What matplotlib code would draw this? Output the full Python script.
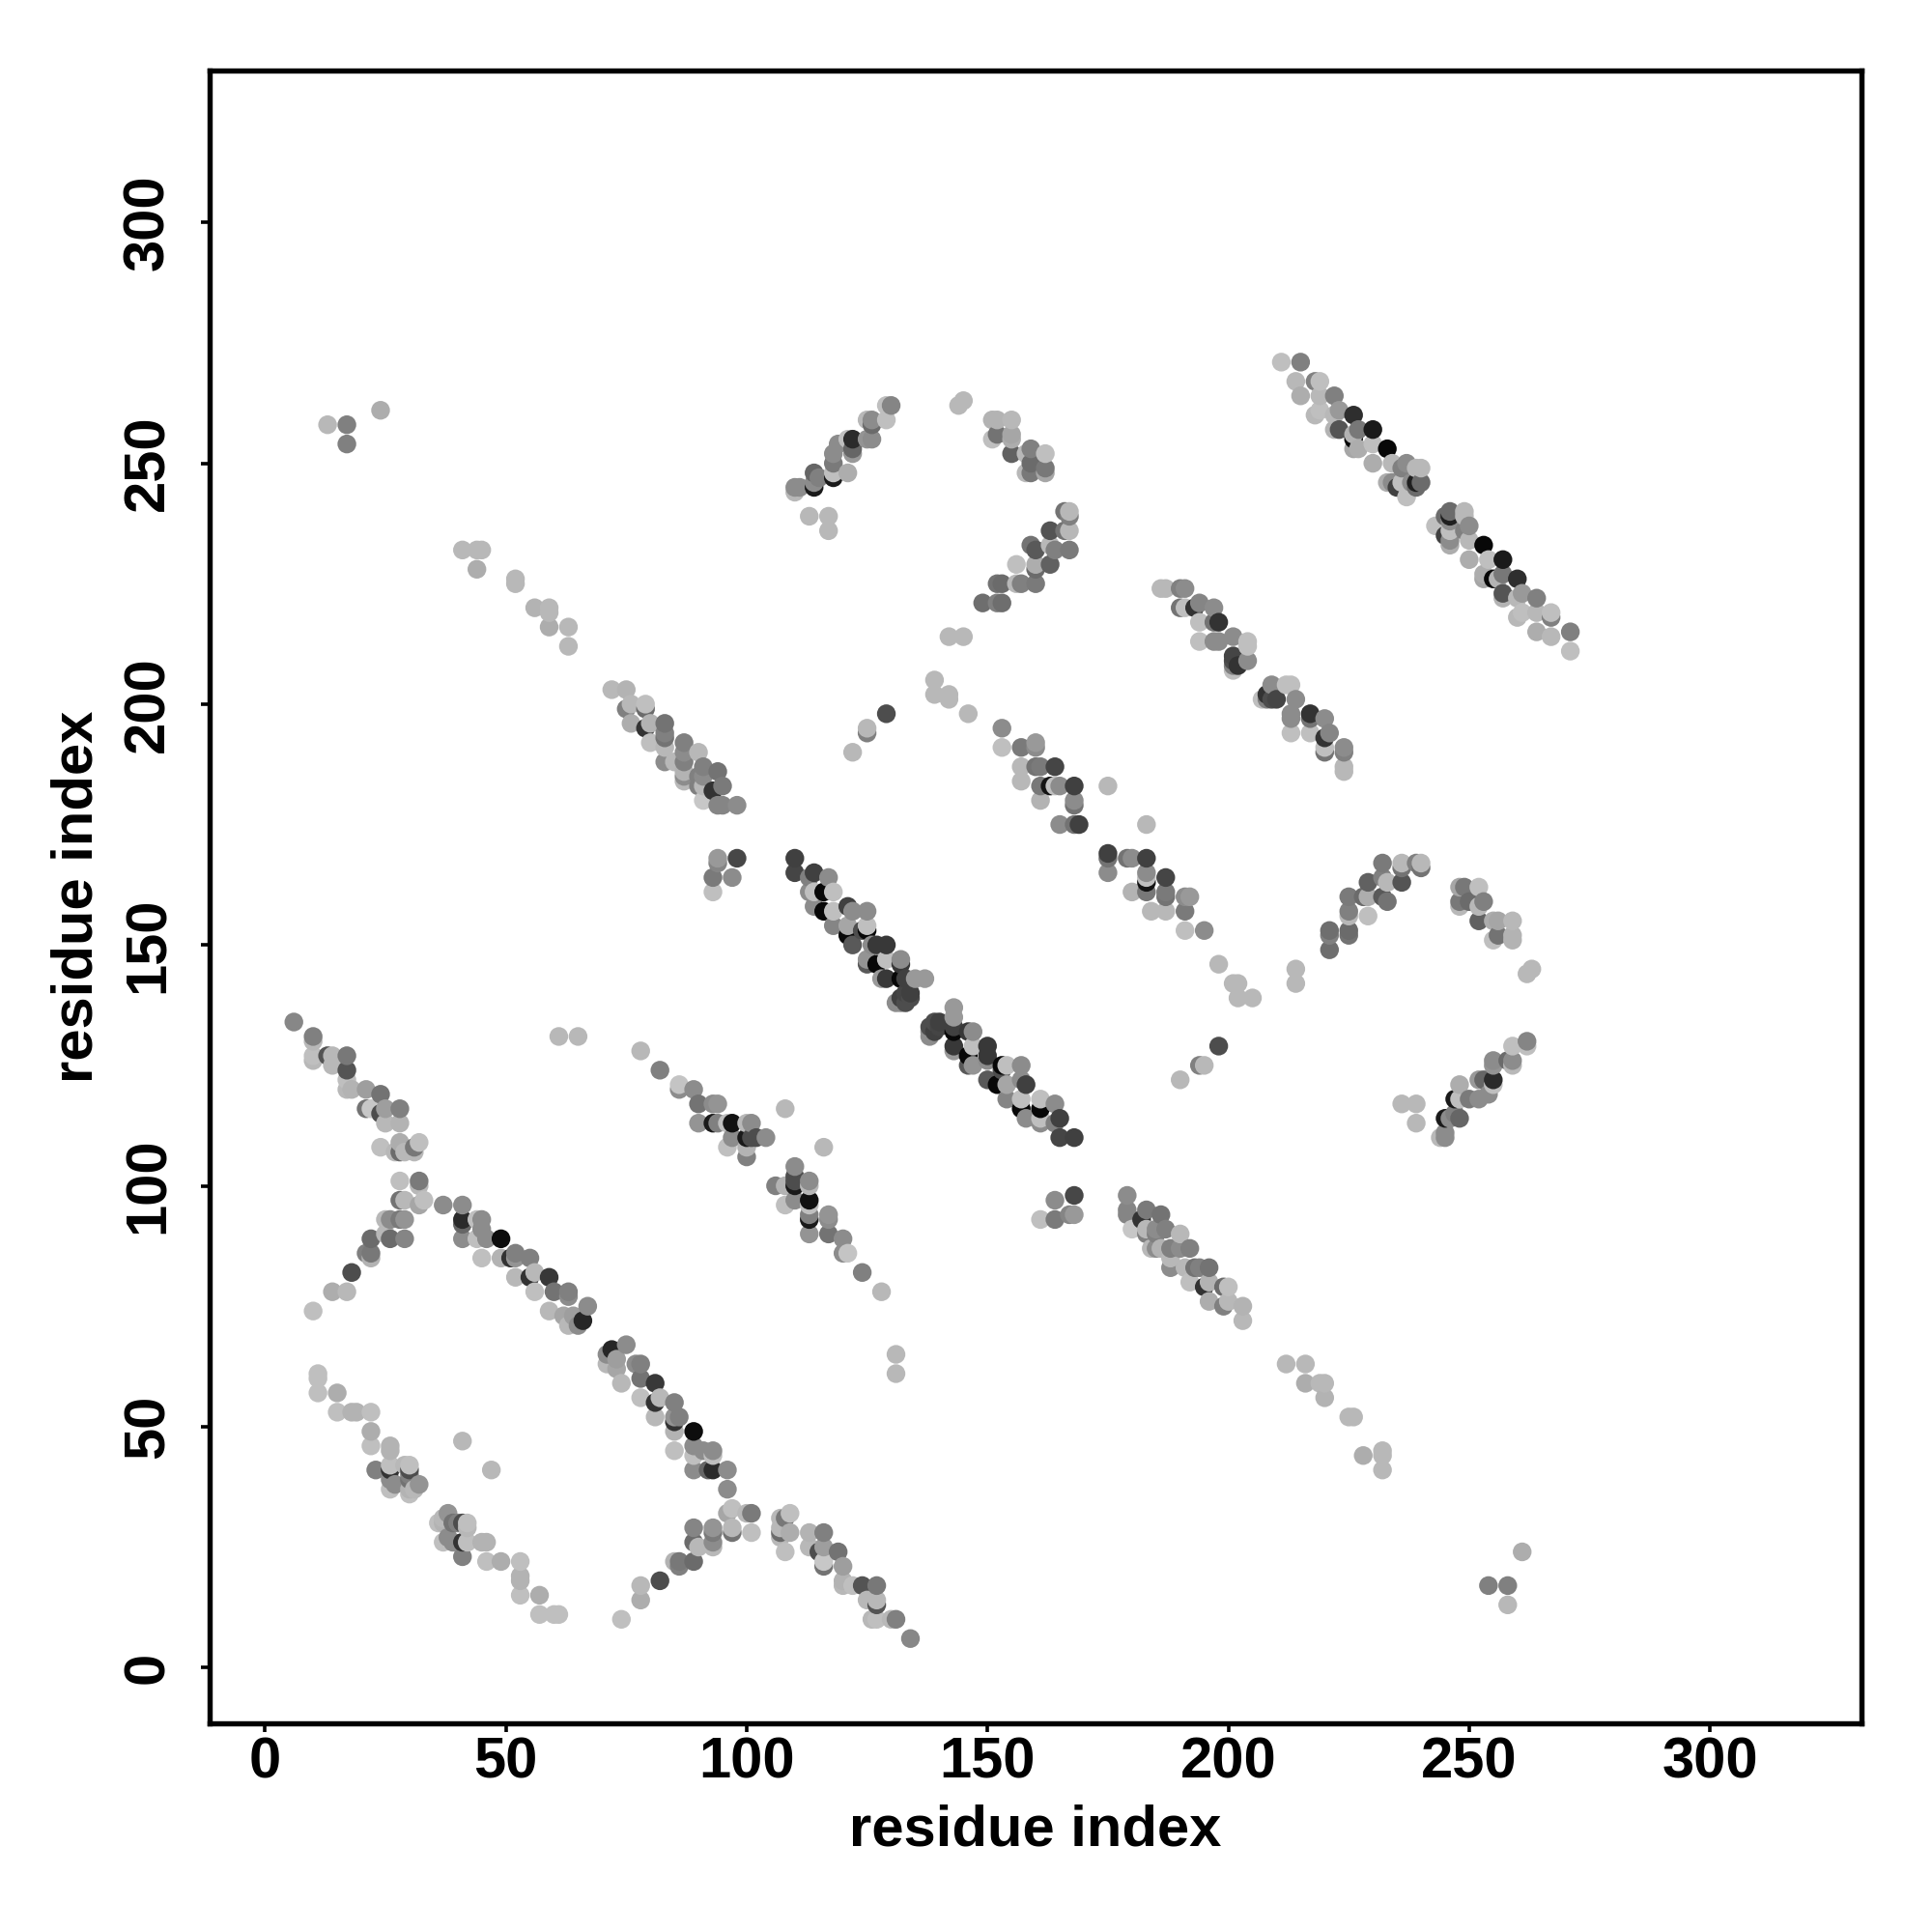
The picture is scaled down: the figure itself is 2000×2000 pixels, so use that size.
import numpy as np
import matplotlib
matplotlib.use("Agg")
import matplotlib.pyplot as plt

plt.rcParams['font.family'] = ['Liberation Sans', 'DejaVu Sans']
plt.rcParams['font.weight'] = 'bold'

# contacts (residue i, residue j, gray level); the map is symmetric, i < j listed
strand_a = [(6,134,.53),(10,131,.5),(10,130,.72),(10,127,.75),(10,126,.72),(13,127,.33),(14,127,.72),(14,125,.72),
            (17,127,.47),(17,124,.33),(17,122,.75),(17,120,.72),(18,120,.7),(21,120,.62),(24,119,.45),(21,116,.45),
            (22,116,.78),(24,115,.3),(25,116,.62),(28,116,.5),(25,113,.72),(28,113,.7),(28,109,.68),(24,108,.75),
            (27,107,.72),(28,107,.42),(29,107,.72),(31,108,.47),(31,107,.72),(32,109,.75)]
strand_b = [(28,101,.75),(32,101,.48),(32,100,.72),(28,97,.45),(29,97,.72),(33,97,.75),(32,96,.65),
            (10,74,.75),(14,78,.68),(17,78,.72),(18,82,.3),(21,86,.5),(22,86,.47),(22,85,.7),(22,89,.42),
            (26,89,.42),(25,90,.72),(29,89,.52),(25,93,.72),(26,93,.55),(28,93,.48),(29,93,.58)]
strand_c = [(37,96,.55),(41,96,.55),(41,93,.17),(41,92,.4),(41,89,.55),(44,93,.75),(45,93,.55),(45,91,.55),(44,89,.75),
            (46,89,.55),(45,85,.75),(49,89,.05),(49,85,.7),(51,85,.2),(52,86,.5),(52,85,.58),(55,85,.5),(52,81,.72),
            (56,82,.72),(55,81,.2),(59,81,.22),(56,78,.75),(60,78,.45),(63,78,.5),(59,74,.72),(63,77,.55),(63,71,.72),
            (67,75,.55),(66,72,.15),(65,71,.55),(62,73,.65),(64,73,.62)]
strand_d = [(11,61,.75),(11,60,.75),(11,57,.75),(15,57,.68),(15,53,.75),(18,53,.7),(19,53,.7),(22,53,.75),(22,49,.68),
            (22,46,.75),(26,46,.7),(26,45,.7),(26,42,.75),(23,41,.5),(26,41,.2),(30,42,.75),(29,42,.72),(30,41,.3),
            (30,40,.5),(26,39,.55),(26,37,.75),(27,38,.55),(30,36,.75),(32,38,.58),(31,37,.72),(30,39,.45),(30,37,.7),
            (41,47,.72)]
far_left = [(13,258,.72),(17,258,.5),(17,254,.5),(24,261,.68),(41,232,.72),(44,232,.72),(45,232,.72),(44,228,.68),
            (52,226,.72),(52,225,.72),(56,220,.7),(59,220,.72),(59,219,.72),(59,216,.68),(63,216,.72),(63,212,.72),
            (61,131,.72),(65,131,.72)]
strand_e = [(72,203,.72),(75,203,.7),(75,199,.5),(76,200,.72),(76,196,.68),(79,199,.42),(79,200,.75),(80,196,.7),
            (79,195,.2),(83,196,.45),(83,194,.5),(83,193,.45),(80,192,.75),(83,191,.72),(83,188,.55),(87,192,.5),
            (87,190,.55),(87,188,.5),(87,186,.7),(87,185,.55),(87,184,.72),(85,188,.72),(90,190,.72),(91,187,.5),
            (90,185,.5),(91,185,.55),(90,183,.5),(91,183,.72),(91,180,.78),(94,186,.45),(95,183,.48),(93,182,.2),
            (94,179,.52),(95,179,.52),(98,179,.55),(94,168,.6),(94,167,.52),(98,168,.28),(93,164,.48),(97,164,.55),
            (93,161,.75)]
strand_f = [(78,128,.72),(82,124,.5),(86,121,.77),(86,120,.55),(89,120,.55),(90,117,.45),(93,117,.55),(94,117,.58),
            (90,113,.58),(93,113,.1),(94,113,.5),(96,113,.75),(97,113,.07),(100,113,.72),(101,113,.55),(96,108,.75),
            (97,110,.55),(100,110,.1),(101,110,.3),(102,110,.3),(104,110,.55),(100,106,.5),(100,108,.7),(108,116,.72)]
strand_main = [(110,168,.25),(110,165,.27),(114,165,.25),(113,164,.5),(117,164,.55),(114,161,.75),(113,161,.55),
               (116,161,.03),(118,161,.75),(114,158,.55),(118,157,.75),(116,157,.03),(118,154,.52),(121,158,.25),
               (122,157,.55),(125,157,.55),(121,154,.65),(121,152,.03),(122,150,.35),(125,154,.75),(125,153,.03),
               (124,153,.3),(126,150,.55),(129,150,.22),(127,150,.22),(125,147,.58),(125,146,.35),(127,146,.03),
               (129,147,.75),(132,147,.55),(132,146,.22),(129,143,.22),(128,143,.6),(132,143,.03),(133,143,.25),
               (135,143,.6),(137,143,.6),(133,140,.27),(132,139,.25),(134,140,.25),(131,138,.55),(132,138,.55),
               (133,138,.3),(134,139,.3)]
arc_left = [(130,262,.52),(129,262,.75),(129,259,.75),(125,259,.72),(126,259,.55),(126,258,.42),(125,255,.58),
            (126,255,.55),(122,255,.17),(121,255,.75),(119,254,.55),(122,253,.4),(122,252,.6),(118,252,.55),
            (118,250,.48),(121,248,.68),(118,248,.75),(118,247,.1),(114,248,.4),(115,247,.5),(114,245,.1),
            (114,246,.55),(110,245,.55),(111,245,.55),(110,244,.72),(113,239,.72),(117,239,.72),(117,236,.72)]
arc_right = [(145,263,.72),(144,262,.72),(151,259,.7),(152,259,.7),(155,259,.72),(151,255,.75),(152,256,.45),
             (155,256,.65),(155,255,.68),(155,252,.38),(158,252,.72),(159,253,.5),(162,252,.75),(159,250,.42),
             (158,248,.72),(159,248,.47),(162,249,.47),(162,248,.65)]
arc_low = [(166,240,.45),(167,240,.72),(167,239,.5),(163,236,.33),(166,236,.45),(167,236,.72),(159,233,.45),
           (160,232,.35),(163,233,.72),(164,232,.5),(167,232,.48),(163,229,.38),(156,229,.75),(160,229,.68),
           (160,228,.42),(156,225,.72),(157,225,.5),(160,225,.48),(152,225,.45),(153,225,.42),(149,221,.43),
           (152,221,.5),(153,221,.43),(142,214,.72),(145,214,.72),(122,190,.72),(125,194,.5),(125,195,.72),(129,198,.3)]
strand_g = [(139,205,.72),(139,202,.72),(142,202,.72),(142,201,.72),(146,198,.72),(153,195,.55),(153,191,.75),
            (157,191,.48),(160,192,.6),(160,191,.55),(157,187,.72),(157,184,.72),(161,187,.48),(160,187,.45),
            (164,187,.27),(161,183,.47),(161,180,.7),(164,183,.75),(163,183,.08),(165,183,.55),(168,183,.25),
            (175,183,.72),(168,180,.55),(168,179,.45),(165,175,.55),(168,175,.45),(169,175,.25)]
strand_h = [(186,224,.72),(187,224,.72),(190,224,.5),(191,224,.55),(190,220,.45),(191,220,.75),(194,221,.52),
            (193,220,.2),(197,220,.55),(194,217,.75),(197,217,.45),(198,217,.2),(194,213,.75),(197,213,.55),
            (198,213,.55),(201,214,.55),(204,213,.75),(204,212,.75),(201,210,.27),(201,209,.3),(204,209,.55),
            (202,208,.2),(201,208,.5),(201,207,.75)]
strand_i = [(211,271,.75),(215,271,.5),(214,267,.72),(218,267,.5),(219,267,.75),(215,264,.68),(219,264,.72),
            (222,264,.5),(218,260,.72),(219,261,.75),(223,261,.6),(222,260,.72),(226,260,.18),(222,257,.7),
            (223,257,.33),(226,256,.7),(227,257,.47),(226,255,.03),(230,257,.1),(226,253,.65),(227,253,.68),
            (230,254,.75),(233,253,.03),(230,250,.68),(234,250,.72),(237,250,.55),(236,249,.5),(239,249,.72),
            (240,249,.72),(233,246,.68),(234,246,.55),(235,245,.25),(236,246,.75),(237,243,.75),(238,246,.55),
            (239,246,.12),(240,246,.42),(239,245,.42)]

all_strands = [strand_a, strand_b, strand_c, strand_d, far_left, strand_e, strand_f, strand_main,
               arc_left, arc_right, arc_low, strand_g, strand_h, strand_i]
tick_values = [0, 50, 100, 150, 200, 250, 300]
axis_label = "residue index"

rows = np.array([p for s in all_strands for p in s], dtype=float)
x = np.r_[rows[:, 0], rows[:, 1]]
y = np.r_[rows[:, 1], rows[:, 0]]
g = np.r_[rows[:, 2], rows[:, 2]]
order = np.lexsort((y, x))

fig = plt.figure(figsize=(20, 20), dpi=100, facecolor='white')
ax = fig.add_axes([216.7/2000, 1 - 1783.5/2000, (1927.3-216.7)/2000, (1783.5-72.7)/2000])
ax.scatter(x[order], y[order], s=195, c=[(v, v, v) for v in g[order]], linewidths=0, zorder=3, clip_on=True)
ax.set_xlim(-11.55, 331.5)
ax.set_ylim(-11.5, 331.6)
ax.set_xticks(tick_values)
ax.set_yticks(tick_values)
ax.tick_params(length=6.8, width=2.6, labelsize=43)
ax.tick_params(axis='x', pad=3)
ax.tick_params(axis='y', pad=18.5)
for lab in ax.get_yticklabels():
    lab.set_rotation(90)
    lab.set_va('center')
for s in ax.spines.values():
    s.set_linewidth(3.9)
ax.set_xlabel(axis_label, fontsize=43, fontweight='bold', va='center')
ax.set_ylabel(axis_label, fontsize=43, fontweight='bold', va='center')
ax.xaxis.set_label_coords(0.5, -0.0652)
ax.yaxis.set_label_coords(-0.0798, 0.5)
fig.savefig('out.png', dpi=100, facecolor='white')
